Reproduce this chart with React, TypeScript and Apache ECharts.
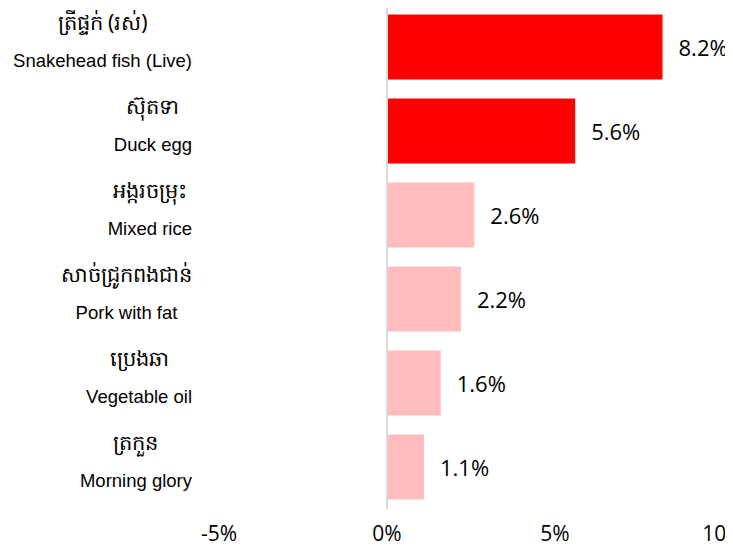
import React, { useEffect, useRef } from "react";
import * as echarts from "echarts";

const khmerNames = ["ត្រីផ្ទក់ (រស់)", "ស៊ុតទា", "អង្ករចម្រុះ", "សាច់ជ្រូកពងជាន់", "ប្រេងឆា", "ត្រកួន"];
const englishNames = ["Snakehead fish (Live)", "Duck egg", "Mixed rice", "Pork with fat", "Vegetable oil", "Morning glory"];
const values = [8.2, 5.6, 2.6, 2.2, 1.6, 1.1];
const highlighted = [true, true, false, false, false, false];
const xTicks = { min: -5, max: 10, interval: 5 };

export default function App() {
  const ref = useRef<HTMLDivElement>(null);
  useEffect(() => {
    const chart = echarts.init(ref.current!, null, { renderer: "svg" });
    const cats = khmerNames.map((k, i) => `{kh|${k}}\n{en|${englishNames[i]}}`);
    chart.setOption({
      animation: false,
      grid: { left: 219, right: 10, top: 5, bottom: 41, containLabel: false, outerBoundsMode: "none" },
      xAxis: {
        type: "value",
        min: xTicks.min,
        max: xTicks.max,
        interval: xTicks.interval,
        axisLine: { show: false },
        axisTick: { show: false },
        splitLine: { show: false },
        axisLabel: {
          formatter: (v: number) => `${v}%`,
          fontFamily: "Open Sans",
          fontSize: 21,
          color: "#000",
          margin: 13,
        },
      },
      yAxis: {
        type: "category",
        inverse: true,
        data: cats,
        axisLine: { show: false, onZero: false },
        axisTick: { show: false },
        axisLabel: {
          margin: 27,
          align: "right",
          rich: {
            kh: { fontSize: 21, lineHeight: 26, color: "#000", align: "center", fontFamily: "Noto Sans" },
            en: { fontSize: 18.5, lineHeight: 50, color: "#000", align: "center", fontFamily: "Liberation Sans" },
          },
        },
      },
      series: [
        {
          type: "bar",
          barWidth: 65,
          data: values.map((v, i) => ({
            value: v,
            itemStyle: { color: highlighted[i] ? "#FF0000" : "#FFBDBD" },
          })),
          label: {
            show: true,
            position: "right",
            distance: 16,
            formatter: (p: any) => `${p.value.toFixed(1)}%`,
            fontFamily: "Open Sans",
            fontSize: 22,
            color: "#000",
          },
          markLine: {
            silent: true,
            symbol: "none",
            label: { show: false },
            lineStyle: { color: "#D9D9D9", width: 2, type: "solid" },
            data: [{ xAxis: 0 }],
          },
        },
      ],
    });
    return () => chart.dispose();
  }, []);
  return <div ref={ref} style={{ width: 733, height: 550, margin: -8 }} />;
}
